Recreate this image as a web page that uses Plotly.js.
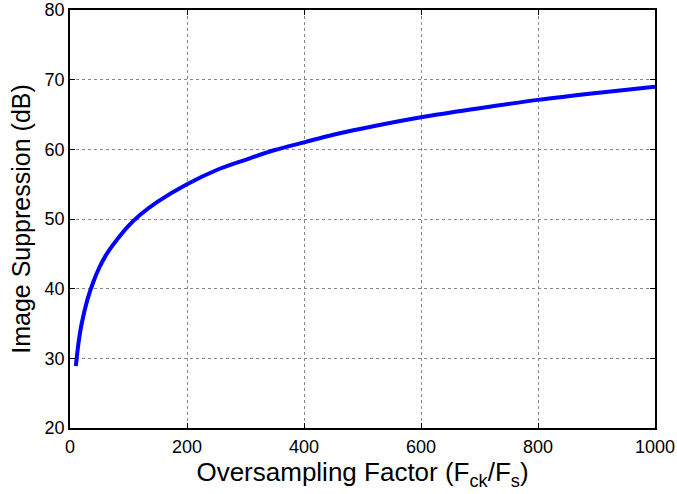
<!DOCTYPE html>
<html>
<head>
<meta charset="utf-8">
<script src="https://cdn.plot.ly/plotly-3.0.1.min.js"></script>
<style>html,body{margin:0;padding:0;background:#fff;}#chart{width:677px;height:494px;}</style>
</head>
<body>
<div id="chart"></div>
<script>
const oversampling = [10, 15, 20, 30, 40, 50, 60, 70, 80, 100, 120, 150, 200, 250, 300, 350, 400, 450, 500, 600, 700, 800, 900, 1000];
const suppression = [28.9, 32.5, 35.0, 38.5, 41.0, 43.0, 44.6, 45.9, 47.0, 49.0, 50.6, 52.5, 55.0, 57.0, 58.5, 59.9, 61.0, 62.1, 63.0, 64.6, 65.9, 67.1, 68.1, 69.0];
const xTicks = [0, 200, 400, 600, 800, 1000];
const yTicks = [20, 30, 40, 50, 60, 70, 80];

const font = {family: 'Liberation Sans, Arial, sans-serif', color: '#000'};
const axisCommon = {
  showline: true, linecolor: '#000', linewidth: 1.5, mirror: 'ticks',
  ticks: 'inside', ticklen: 5, tickcolor: '#000',
  showgrid: true, gridcolor: '#888', griddash: 'dot', gridwidth: 1,
  zeroline: false, ticklabeloverflow: 'allow',
  tickfont: Object.assign({size: 18}, font)
};
Plotly.newPlot('chart', [{
  x: oversampling, y: suppression, type: 'scatter', mode: 'lines',
  line: {color: '#0000ff', width: 4, shape: 'spline'}
}], {
  width: 677, height: 494,
  margin: {l: 70, r: 22, t: 10, b: 66},
  paper_bgcolor: '#fff', plot_bgcolor: '#fff',
  showlegend: false,
  xaxis: Object.assign({}, axisCommon, {
    range: [0, 1000], tickvals: xTicks, ticklabelstandoff: 2,
    title: {text: 'Oversampling Factor (F<sub>ck</sub>/F<sub>s</sub>)', font: Object.assign({size: 26}, font), standoff: 4}
  }),
  yaxis: Object.assign({}, axisCommon, {
    range: [20, 80], tickvals: yTicks, ticklabelstandoff: 0,
    title: {text: 'Image Suppression (dB)', font: Object.assign({size: 25}, font), standoff: 7}
  })
}, {displayModeBar: false});
</script>
</body>
</html>
